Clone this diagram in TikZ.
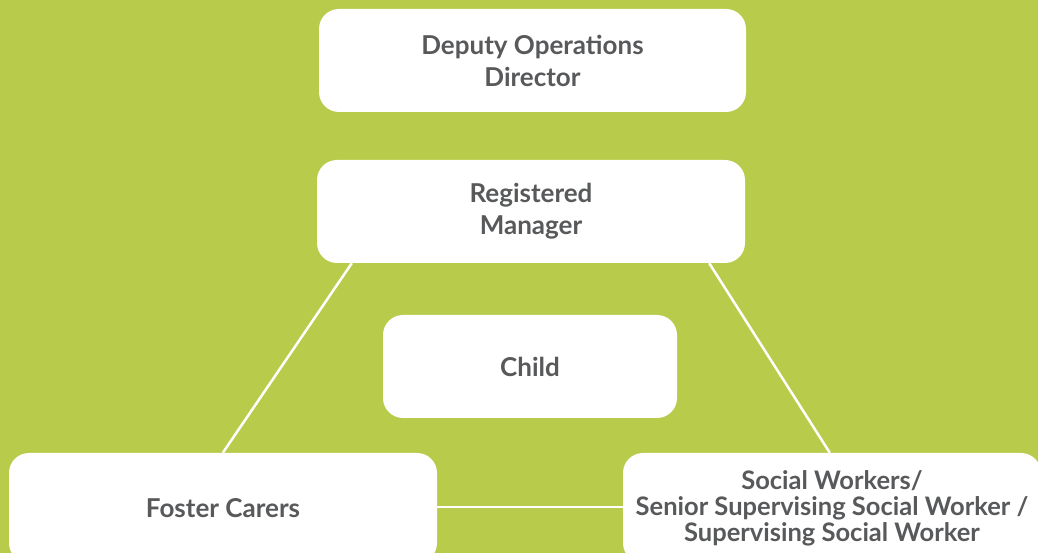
\documentclass[tikz,border=0pt]{standalone}
\usepackage{fontspec}
\setmainfont{Lato}
\definecolor{bggreen}{HTML}{B9CB4A}
\definecolor{txtgray}{HTML}{58595B}
\begin{document}
\begin{tikzpicture}[x=1pt,y=1pt,
  box/.style={fill=white, rounded corners=20pt, align=center, text=txtgray,
    font=\fontsize{26}{32}\selectfont\bfseries, inner sep=0pt},
  conn/.style={draw=white, line width=2.5pt}]
\useasboundingbox (0,0) rectangle (1038,553);
\clip (0,0) rectangle (1038,553);
\fill[bggreen] (0,0) rectangle (1038,553);
\node[box, minimum width=427pt, minimum height=103pt] (dod) at (532.5,492.5) {Deputy Operations\\Director};
\node[box, minimum width=428pt, minimum height=103pt] (rm) at (531,341.5) {Registered\\Manager};
\node[box, minimum width=294pt, minimum height=103pt] (child) at (530,186.5) {Child};
\node[box, minimum width=428pt, minimum height=110pt] (fc) at (223,45) {Foster Carers};
\node[box, minimum width=418pt, minimum height=110pt, font=\fontsize{25.5}{26}\selectfont\bfseries] (sw) at (832,45) {Social Workers/\\Senior Supervising Social Worker /\\Supervising Social Worker};
\draw[conn] ([xshift=35pt]rm.south west) -- ([xshift=214pt]fc.north west);
\draw[conn] ([xshift=-36pt]rm.south east) -- ([xshift=207pt]sw.north west);
\draw[conn] ([yshift=1pt]fc.east) -- ([yshift=1pt]fc.east -| sw.west);
\end{tikzpicture}
\end{document}
